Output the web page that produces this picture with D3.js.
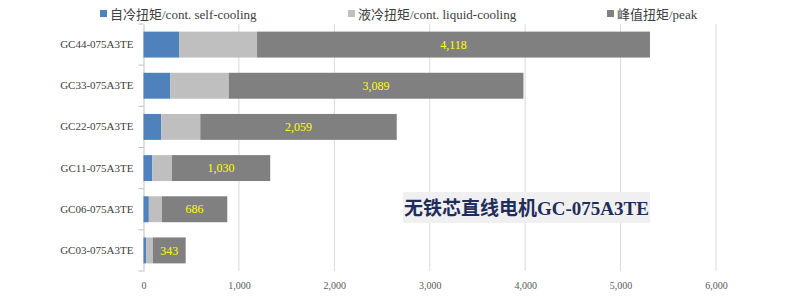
<!DOCTYPE html>
<html>
<head>
<meta charset="utf-8">
<script src="https://cdn.jsdelivr.net/npm/d3@7"></script>
<style>
  body { margin: 0; background: #fff; }
  svg { display: block; }
</style>
</head>
<body>
<svg id="chart" width="794" height="296"></svg>
<script>
// data, top to bottom
const models = ["GC44-075A3TE", "GC33-075A3TE", "GC22-075A3TE", "GC11-075A3TE", "GC06-075A3TE", "GC03-075A3TE"];
const selfCooling = [372, 279, 186, 93, 56, 27];
const liquidCooling = [818, 614, 409, 205, 136, 72];
const peak = [4118, 3089, 2059, 1030, 686, 343];
const seriesNames = ["自冷扭矩/cont. self-cooling", "液冷扭矩/cont. liquid-cooling", "峰值扭矩/peak"];
const xTicks = [0, 1000, 2000, 3000, 4000, 5000, 6000];
const chartTitle = "无铁芯直线电机GC-075A3TE";

const colors = ["#4F81BD", "#BFBFBF", "#808080"];
const serif = "'Liberation Serif', 'Times New Roman', 'Noto Sans CJK SC', serif";

const svg = d3.select("#chart");
const margin = {left: 143.5, right: 78, top: 24, bottom: 25};
const w = 794, h = 296;

const rows = models.map((m, i) => ({model: m, vals: [selfCooling[i], liquidCooling[i], peak[i]]}));
const stack = d3.stack().keys([0, 1, 2]).value((d, k) => d.vals[k]);
const layers = stack(rows);

const x = d3.scaleLinear().domain([0, 6000]).range([margin.left, w - margin.right]);
const y = d3.scaleBand().domain(models).range([margin.top, h - margin.bottom]).paddingInner(0.37).paddingOuter(0.185);
const yBands = d3.scaleBand().domain(models).range([margin.top, h - margin.bottom]);

// gridlines
svg.append("g")
  .selectAll("line")
  .data(xTicks.slice(1))
  .join("line")
    .attr("x1", d => x(d)).attr("x2", d => x(d))
    .attr("y1", margin.top).attr("y2", h - margin.bottom)
    .attr("stroke", "#D9D9D9").attr("stroke-width", 1);

// left axis with category ticks
const yAxis = svg.append("g")
  .attr("transform", `translate(${margin.left},0)`)
  .call(d3.axisLeft(yBands).tickSize(0).tickPadding(10));
yAxis.select(".domain").attr("stroke", "#BFBFBF");
yAxis.selectAll("text")
  .attr("font-family", serif).attr("font-size", 11).attr("fill", "#404040");
yAxis.append("g")
  .selectAll("line")
  .data(models.map(m => yBands(m)).concat([h - margin.bottom]))
  .join("line")
    .attr("x1", -5).attr("x2", 0)
    .attr("y1", d => d).attr("y2", d => d)
    .attr("stroke", "#BFBFBF");

// bottom tick labels
const xAxis = svg.append("g")
  .attr("transform", `translate(0,${h - margin.bottom})`)
  .call(d3.axisBottom(x).tickValues(xTicks).tickSize(0).tickPadding(11).tickFormat(d3.format(",")));
xAxis.select(".domain").remove();
xAxis.selectAll("text")
  .attr("font-family", serif).attr("font-size", 10).attr("fill", "#595959");

// stacked bars
svg.append("g")
  .selectAll("g")
  .data(layers)
  .join("g")
    .attr("fill", (d, i) => colors[i])
  .selectAll("rect")
  .data(d => d)
  .join("rect")
    .attr("x", d => x(d[0]))
    .attr("y", d => y(d.data.model))
    .attr("width", d => x(d[1]) - x(d[0]))
    .attr("height", y.bandwidth());

// peak value labels
svg.append("g")
  .selectAll("text")
  .data(layers[2])
  .join("text")
    .attr("x", d => (x(d[0]) + x(d[1])) / 2)
    .attr("y", d => y(d.data.model) + y.bandwidth() / 2)
    .attr("dy", "0.35em")
    .attr("text-anchor", "middle")
    .attr("font-family", serif).attr("font-size", 12)
    .attr("fill", "#FFFF00")
    .text(d => d3.format(",")(d.data.vals[2]));

// legend
const legendX = [100, 348, 607];
const legend = svg.append("g")
  .selectAll("g")
  .data(seriesNames)
  .join("g")
    .attr("transform", (d, i) => `translate(${legendX[i]},14)`);
legend.append("rect")
  .attr("x", 0).attr("y", -4).attr("width", 7).attr("height", 7)
  .attr("fill", (d, i) => colors[i]);
legend.append("text")
  .attr("x", 10).attr("y", 0).attr("dy", "0.35em")
  .attr("font-family", serif).attr("font-size", 13).attr("fill", "#404040")
  .text(d => d);

// title box
const tb = svg.append("g").attr("transform", "translate(403,192)");
tb.append("rect").attr("width", 247).attr("height", 31).attr("fill", "#F0F0F0");
tb.append("text")
  .attr("x", 123.5).attr("y", 16).attr("dy", "0.35em")
  .attr("text-anchor", "middle")
  .attr("font-family", serif).attr("font-size", 19).attr("font-weight", "bold")
  .attr("fill", "#1F2D5C")
  .text(chartTitle);
</script>
</body>
</html>
